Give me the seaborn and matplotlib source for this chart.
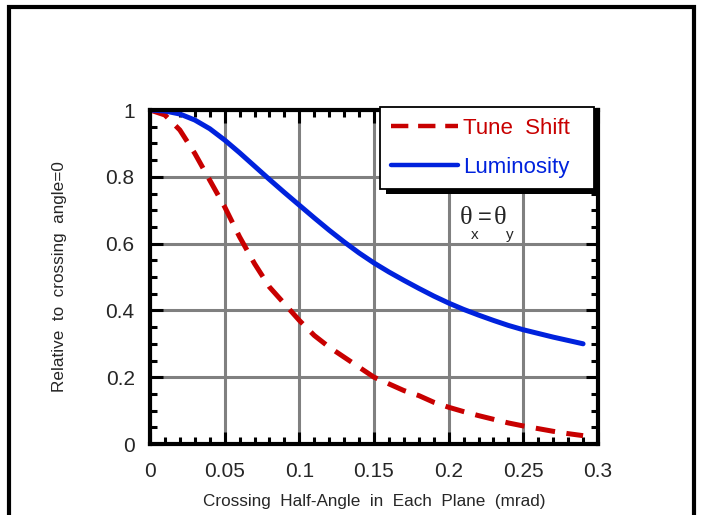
import numpy as np
import pandas as pd
import matplotlib
matplotlib.use("Agg")
import matplotlib.pyplot as plt
from matplotlib.patches import Rectangle
from matplotlib.lines import Line2D
from matplotlib.ticker import FixedLocator, FixedFormatter, MultipleLocator
import seaborn as sns

# Crossing half-angle (mrad) and normalised quantities
half_angle = [0.00, 0.01, 0.02, 0.03, 0.04, 0.05, 0.06, 0.07, 0.08, 0.09,
              0.10, 0.11, 0.12, 0.13, 0.14, 0.15, 0.16, 0.17, 0.18, 0.19,
              0.20, 0.21, 0.22, 0.23, 0.24, 0.25, 0.26, 0.27, 0.28, 0.29]
tune_shift = [1.000, 0.985, 0.940, 0.870, 0.790, 0.710, 0.620, 0.540, 0.470, 0.420,
              0.370, 0.325, 0.290, 0.260, 0.230, 0.200, 0.180, 0.160, 0.145, 0.125,
              0.110, 0.097, 0.085, 0.074, 0.063, 0.054, 0.046, 0.038, 0.031, 0.025]
luminosity = [1.000, 0.997, 0.988, 0.970, 0.944, 0.910, 0.872, 0.832, 0.792, 0.753,
              0.715, 0.677, 0.640, 0.605, 0.572, 0.542, 0.515, 0.490, 0.466, 0.443,
              0.422, 0.403, 0.386, 0.370, 0.355, 0.342, 0.331, 0.320, 0.310, 0.300]

x_ticks = [0, 0.05, 0.1, 0.15, 0.2, 0.25, 0.3]
x_tick_labels = ["0", "0.05", "0.1", "0.15", "0.2", "0.25", "0.3"]
y_ticks = [0, 0.2, 0.4, 0.6, 0.8, 1.0]
y_tick_labels = ["0", "0.2", "0.4", "0.6", "0.8", "1"]

series_names = ["Tune  Shift", "Luminosity"]
series_colors = ["#c80000", "#0022dd"]

sns.set_theme(style="white")
plt.rcParams["font.family"] = ["Liberation Sans", "DejaVu Sans"]

df = pd.DataFrame({"angle": half_angle, "tune": tune_shift, "lumi": luminosity})

fig = plt.figure(figsize=(7.05, 5.15), dpi=100)
ax = fig.add_axes([150 / 705, 1 - 444 / 515, 448 / 705, 334 / 515])

sns.lineplot(data=df, x="angle", y="tune", ax=ax, color=series_colors[0],
             linewidth=3.6, zorder=3)
ax.lines[-1].set_dashes((3.9, 2.3))
sns.lineplot(data=df, x="angle", y="lumi", ax=ax, color=series_colors[1],
             linewidth=3.6, zorder=3)
for ln in ax.lines:
    ln.set_solid_joinstyle("round")
    ln.set_dash_joinstyle("round")

ax.set_xlim(0, 0.3)
ax.set_ylim(0, 1)
ax.xaxis.set_major_locator(FixedLocator(x_ticks))
ax.xaxis.set_major_formatter(FixedFormatter(x_tick_labels))
ax.yaxis.set_major_locator(FixedLocator(y_ticks))
ax.yaxis.set_major_formatter(FixedFormatter(y_tick_labels))
ax.xaxis.set_minor_locator(MultipleLocator(0.01))
ax.yaxis.set_minor_locator(MultipleLocator(0.05))

ax.grid(True, which="major", color="#808080", linewidth=2.2)
ax.set_axisbelow(True)
for s in ax.spines.values():
    s.set_visible(True)
    s.set_color("black")
    s.set_linewidth(3.0)
    s.set_zorder(4)

ax.tick_params(which="both", direction="in", top=True, right=True,
               bottom=True, left=True, color="black", width=2.2)
ax.tick_params(which="major", length=9, labelsize=15)
ax.tick_params(which="minor", length=5)
ax.tick_params(axis="x", which="major", pad=13)
ax.tick_params(axis="y", which="major", pad=11)

ax.set_xlabel("Crossing  Half-Angle  in  Each  Plane  (mrad)", fontsize=12.3,
              labelpad=9)
ax.set_ylabel("Relative  to  crossing  angle=0", fontsize=12.3, labelpad=28)

# Legend with a solid drop shadow
handles = [Line2D([], [], color=series_colors[0], linewidth=3.2, dashes=(3.9, 2.2)),
           Line2D([], [], color=series_colors[1], linewidth=3.2)]
leg = ax.legend(handles, series_names, loc="upper left",
                bbox_to_anchor=(380 / 705, 1 - 188 / 515, 214 / 705, 81 / 515),
                bbox_transform=fig.transFigure, mode="expand",
                fontsize=16, handlelength=3.0, handletextpad=0.25,
                borderaxespad=0, borderpad=0.5, labelspacing=0.8,
                fancybox=False, frameon=True, framealpha=1)
leg.get_frame().set_edgecolor("black")
leg.get_frame().set_linewidth(1.3)
leg.get_frame().set_facecolor("white")
leg.set_zorder(6)
for txt, c in zip(leg.get_texts(), series_colors):
    txt.set_color(c)

fig.canvas.draw()
bb = leg.get_window_extent()
shadow = Rectangle((bb.x0 + 6, bb.y0 - 5), bb.width, bb.height,
                   transform=None, facecolor="black",
                   edgecolor="none", clip_on=False, zorder=5.5)
ax.add_patch(shadow)

# Equal crossing angle annotation
ax.text(460 / 705, 1 - 218 / 515, "θ", transform=fig.transFigure,
        family="Liberation Serif", fontsize=19, va="center", ha="left")
ax.text(478 / 705, 1 - 218 / 515, "=", transform=fig.transFigure,
        fontsize=17, va="center", ha="left")
ax.text(494 / 705, 1 - 218 / 515, "θ", transform=fig.transFigure,
        family="Liberation Serif", fontsize=19, va="center", ha="left")
ax.text(475 / 705, 1 - 235 / 515, "x", transform=fig.transFigure,
        fontsize=11, va="center", ha="center")
ax.text(510 / 705, 1 - 235 / 515, "y", transform=fig.transFigure,
        fontsize=11, va="center", ha="center")

# Outer frame around the figure
frame = Line2D([9 / 705, 9 / 705, 694 / 705, 694 / 705],
               [-0.05, 1 - 7 / 515, 1 - 7 / 515, -0.05],
               transform=fig.transFigure, color="black", linewidth=3.0,
               solid_joinstyle="miter")
fig.add_artist(frame)

fig.savefig("out.png", dpi=100)
